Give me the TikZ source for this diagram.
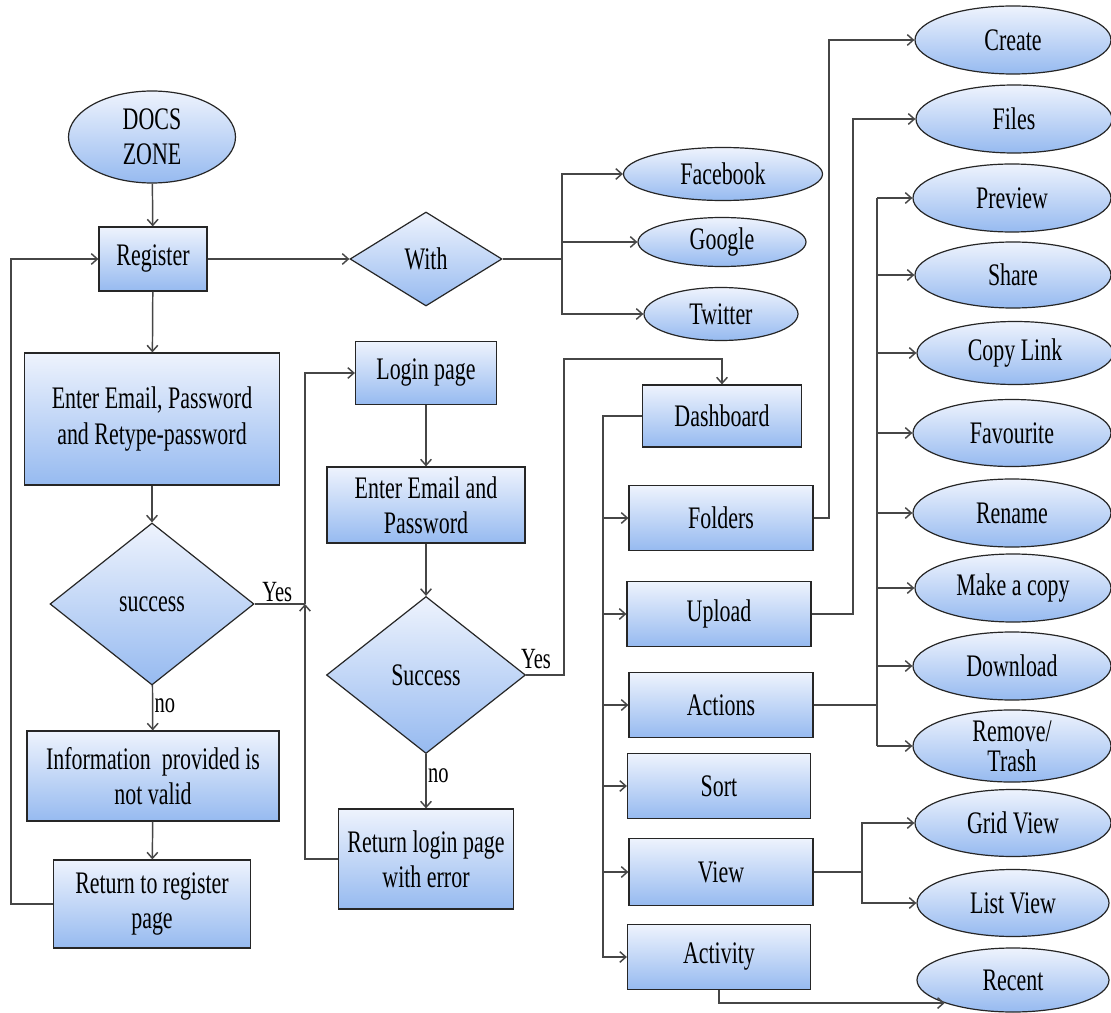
\documentclass[tikz,border=0pt]{standalone}
\usepackage{fontspec}
\setmainfont{Liberation Serif}[FakeStretch=0.7]
\usetikzlibrary{shapes.geometric,arrows.meta}
\definecolor{topc}{RGB}{238,243,253}
\definecolor{botc}{RGB}{150,186,240}
\definecolor{linec}{RGB}{70,70,70}
\tikzset{
  sz/.style 2 args={minimum width=#1*0.75pt, minimum height=#2*0.75pt},
  shp/.style={draw=black!85, line width=0.9pt, top color=topc, bottom color=botc,
    inner sep=0pt, align=center, font=\fontsize{23.5}{26.5}\selectfont},
  boxn/.style={shp, rectangle},
  elln/.style={shp, ellipse},
  dian/.style={shp, diamond},
  conn/.style={draw=linec, line width=1.1pt},
  arr/.style={conn, -{Straight Barb[length=4.5pt,width=8pt]}},
  lbl/.style={font=\fontsize{22}{25}\selectfont, inner sep=1pt}
}
\begin{document}
\begin{tikzpicture}[x=0.75pt,y=-0.75pt]
\useasboundingbox (0,0) rectangle (1111,1013);
\fill[white] (0,0) rectangle (1111,1013);
% left column
\node[elln, sz={167}{92}] (docs) at (152,137) {DOCS\\ZONE};
\node[boxn, sz={108}{64}] (reg) at (153,259) {Register};
\node[dian, sz={152}{94}] (with) at (426,259) {With};
\node[elln, sz={199}{53}] (fb) at (723,174) {Facebook};
\node[elln, sz={168}{49}] (gg) at (722,242) {Google};
\node[elln, sz={154}{53}] (tw) at (721,314) {Twitter};
\node[boxn, sz={255}{132}] (enter) at (152,419) {Enter Email, Password\\and Retype-password};
\node[dian, sz={204}{162}] (succ) at (152,604) {success};
\node[boxn, sz={252}{90}] (info) at (153,776) {Information\ \ provided is\\not valid};
\node[boxn, sz={197}{88}] (retreg) at (152,904) {Return to register\\page};
% middle column
\node[boxn, sz={141}{63}] (login) at (426,373) {Login page};
\node[boxn, sz={198}{76}] (el) at (426,505) {Enter Email and\\Password};
\node[dian, sz={199}{157}] (s2) at (426,675) {Success};
\node[boxn, sz={175}{100}] (retlog) at (426,859) {Return login page\\with error};
% dashboard column
\node[boxn, sz={159}{62}] (dash) at (722,416) {Dashboard};
\node[boxn, sz={184}{65}] (fold) at (721,518) {Folders};
\node[boxn, sz={184}{65}] (upl) at (719,614) {Upload};
\node[boxn, sz={184}{65}] (act) at (721,705) {Actions};
\node[boxn, sz={183}{65}] (sort) at (719,786) {Sort};
\node[boxn, sz={184}{67}] (view) at (721,872) {View};
\node[boxn, sz={183}{65}] (activ) at (719,957) {Activity};
% right column
\node[elln, sz={196}{68}] (create) at (1013,40) {Create};
\node[elln, sz={196}{68}] (files) at (1014,119) {Files};
\node[elln, sz={198}{68}] (prev) at (1012,198) {Preview};
\node[elln, sz={196}{66}] (share) at (1013,275) {Share};
\node[elln, sz={196}{63}] (copy) at (1015,353) {Copy Link};
\node[elln, sz={198}{67}] (fav) at (1012,433) {Favourite};
\node[elln, sz={198}{68}] (ren) at (1012,513) {Rename};
\node[elln, sz={196}{68}] (mcopy) at (1013,588) {Make a copy};
\node[elln, sz={198}{68}] (down) at (1012,666) {Download};
\node[elln, sz={198}{68}] (rem) at (1012,746) {Remove/\\[-4pt]Trash};
\node[elln, sz={196}{67}] (grid) at (1013,823) {Grid View};
\node[elln, sz={192}{67}] (list) at (1013,903) {List View};
\node[elln, sz={192}{64}] (rec) at (1013,980) {Recent};
% coordinates
\coordinate (j1) at (562,259);
\coordinate (lx) at (11,259);
\coordinate (jy) at (305,604);
\coordinate (ya) at (564,359);
\coordinate (trunk) at (603,0);
\coordinate (cx) at (829,0);
\coordinate (fx) at (853,0);
\coordinate (ax) at (877,0);
\coordinate (vx) at (862,0);
% connectors left
\draw[arr] (docs) -- (reg);
\draw[arr] (reg) -- (with);
\draw[conn] (with.east) -- (j1);
\draw[arr] (j1) |- (fb.west);
\draw[arr] (j1) -- (gg.west -| j1) -- (gg.west);
\draw[arr] (j1) |- (tw.west);
\draw[arr] (reg) -- (enter);
\draw[arr] (enter) -- (succ);
\draw[arr] (succ) -- node[lbl, right, pos=0.45] {no} (info);
\draw[arr] (info) -- (retreg);
\draw[arr] (retreg.west) -| (lx) -- (reg.west);
\draw[conn] (succ.east) -- node[lbl, above, pos=0.45] {Yes} (jy);
\draw[arr] (jy) |- (login.west);
\draw[arr] (retlog.west) -| (jy);
% middle
\draw[arr] (login) -- (el);
\draw[arr] (el) -- (s2);
\draw[arr] (s2) -- node[lbl, right, pos=0.4] {no} (retlog);
\draw[arr] (s2.east) -| (ya) -| (dash.north);
\node[lbl, anchor=south] (yes2) at (536,670) {Yes};
% dashboard trunk
\draw[arr] (dash.west) -| (trunk |- activ.west) -- (activ.west);
\draw[arr] (trunk |- fold.west) -- (fold.west);
\draw[arr] (trunk |- upl.west) -- (upl.west);
\draw[arr] (trunk |- act.west) -- (act.west);
\draw[arr] (trunk |- sort.west) -- (sort.west);
\draw[arr] (trunk |- view.west) -- (view.west);
% folders/upload
\draw[arr] (fold.east) -| (cx |- create.west) -- (create.west);
\draw[arr] (upl.east) -| (fx |- files.west) -- (files.west);
% actions
\draw[conn] (act.east) -- (ax |- act.east);
\draw[conn] (ax |- prev.west) -- (ax |- rem.west);
\draw[arr] (ax |- prev.west) -- (prev.west);
\draw[arr] (ax |- share.west) -- (share.west);
\draw[arr] (ax |- copy.west) -- (copy.west);
\draw[arr] (ax |- fav.west) -- (fav.west);
\draw[arr] (ax |- ren.west) -- (ren.west);
\draw[arr] (ax |- mcopy.west) -- (mcopy.west);
\draw[arr] (ax |- down.west) -- (down.west);
\draw[arr] (ax |- rem.west) -- (rem.west);
% view
\draw[conn] (view.east) -- (vx |- view.east);
\draw[arr] (vx |- view.east) |- (grid.west);
\draw[arr] (vx |- view.east) |- (list.west);
% activity
\draw[arr] (activ.south) |- (rec.south west);
\end{tikzpicture}
\end{document}
